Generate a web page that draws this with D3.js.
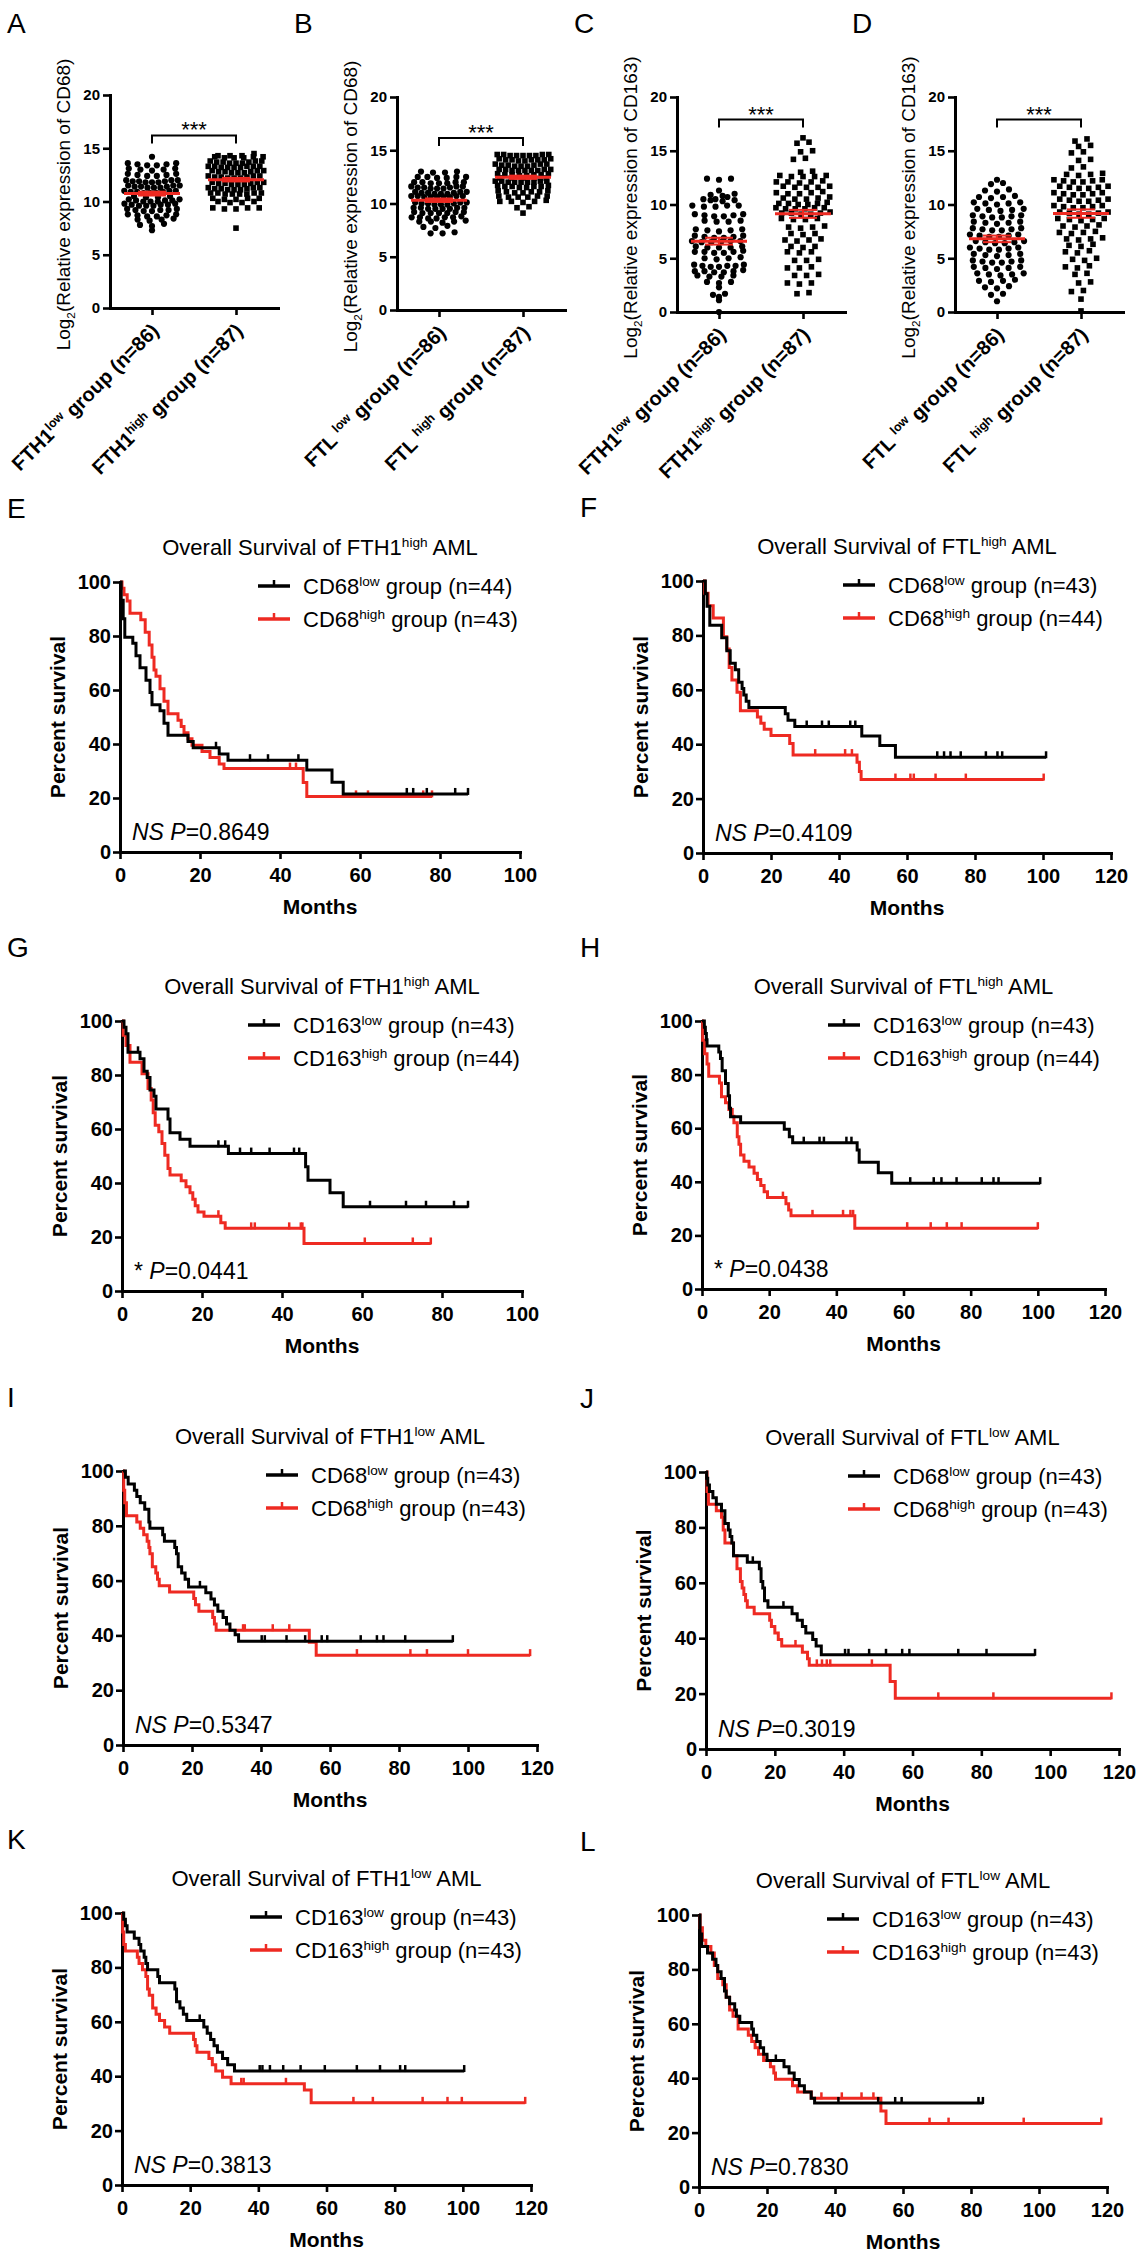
<!DOCTYPE html>
<html lang="en">
<head>
<meta charset="utf-8">
<title>Ferritin / macrophage marker expression and survival</title>
<script src="https://d3js.org/d3.v7.min.js"></script>
<style>
  body { margin: 0; background: #fff; }
  svg { display: block; font-family: "Liberation Sans", Arial, Helvetica, sans-serif; }
  text { white-space: pre; }
</style>
</head>
<body>
<svg id="fig" width="1142" height="2261"></svg>
<script>
var fth1LowCD68 = [14.2, 13.6,13.5,13.4,13.5,13.6,13.4, 13.0,13.1,12.9,13.0,13.1,
  12.5,12.4,12.6,12.5,12.4,12.6, 11.9,12.0,11.8,11.9,12.0,11.8,11.9,12.0,11.8,
  11.4,11.5,11.3,11.4,11.5,11.3,11.4,11.5,11.3, 10.9,11.0,10.8,10.9,11.0,10.8,10.9,11.0,10.8,
  10.5,10.4,10.5,10.4, 10.1,10.2,10.0,10.1,10.2,10.0,10.1,10.0, 9.7,9.6,9.8,9.7,9.6,9.8,9.7,9.6,
  9.2,9.3,9.1,9.2,9.3,9.1,9.2, 8.7,8.8,8.6,8.7,8.8,8.6, 8.3,8.2,8.3,8.4, 7.8,7.7,7.9, 7.3];
var fth1HighCD68 = [14.5, 14.2,14.3,14.1,14.2,14.3,14.1,14.2,14.3,14.1,
  13.7,13.8,13.6,13.7,13.8,13.6,13.7,13.8,13.6, 13.3,13.2,13.3,13.2,13.3,13.2,13.3,13.2,13.3,
  12.8,12.7,12.9,12.8,12.7,12.9,12.8,12.7,12.9, 12.3,12.2,12.4,12.3,12.2,12.4,12.3,12.2,12.4,
  11.7,11.8,11.6,11.7,11.8,11.6,11.7,11.8,11.6, 11.2,11.1,11.3,11.2,11.1,11.3,11.2,11.1,11.3,
  10.8,10.7,10.8,10.7,10.8,10.7,10.8,10.7, 10.3,10.2,10.3,10.2,10.3, 10.0,9.9,10.0,9.9,
  9.4,9.3,9.4,9.3,9.4, 7.5];
var ftlLowCD68 = [13.0,12.9,13.0,12.9, 12.5,12.4,12.5,12.4,12.5,12.5, 12.0,11.9,12.0,11.9,12.0,11.9,12.0,
  11.5,11.6,11.4,11.5,11.6,11.4,11.5,11.6,11.4, 11.0,11.1,10.9,11.0,11.1,10.9,11.0,11.1,10.9,
  10.6,10.7,10.6,10.7,10.6,10.7,10.6,10.7,10.6, 10.0,10.1,9.9,10.0,10.1,9.9,10.0,10.1,9.9,
  9.5,9.6,9.5,9.6,9.5,9.6,9.5,9.6, 9.1,9.2,9.1,9.2,9.1,9.2,9.1, 8.7,8.6,8.7,8.8,8.7,8.6,8.7,
  8.3,8.2,8.3,8.4,8.3, 7.8,7.7,7.9, 7.2,7.3,7.2];
var ftlHighCD68 = [14.5,14.6,14.5,14.6,14.5,14.6,14.5,14.6,14.5, 14.1,14.0,14.1,14.2,14.1,14.0,14.1,14.2,14.1,
  13.6,13.7,13.5,13.6,13.7,13.5,13.6,13.7,13.5, 13.1,13.2,13.1,13.2,13.1,13.2,13.1,13.2,13.1,
  12.7,12.6,12.7,12.8,12.7,12.6,12.7,12.8, 12.4,12.4,12.4,12.4,12.4,
  12.0,12.1,12.0,12.1,12.0,12.1,12.0,12.1,12.0, 11.6,11.5,11.6,11.7,11.6,11.5,11.6,11.7,
  11.1,11.2,11.0,11.1,11.2,11.0,11.1, 10.6,10.7,10.6,10.7,10.6,10.7, 10.2,10.1,10.2,10.3,10.2,
  9.7,9.6, 9.1];
var fth1LowCD163 = [12.4,12.3,12.4, 11.3, 10.9,11.0,10.8,10.7, 10.4,10.5,10.3,10.4,10.5,
  9.9,9.8,9.9,9.8,9.9, 9.0,9.1,8.9,9.0,9.1,8.9, 8.5,8.4,8.5,8.4, 7.6,7.7,7.5,7.6,7.7,
  7.0,7.1,6.9,7.0,7.1,6.9, 6.6,6.5,6.6,6.5,6.6,6.5, 6.0,6.1,6.0,6.1,6.0, 5.6,5.5,5.6,5.7,5.6,5.5,
  5.0,5.1,4.9,5.0, 4.3,4.4,4.2,4.3,4.4,4.2,4.3, 3.8,3.7,3.8,3.9,3.7,3.8, 3.4,3.3,3.4,3.3,
  2.8,2.7,2.8, 2.3, 1.6,1.7,1.4, 1.1, 0.0];
var fth1HighCD163 = [16.2, 15.8,15.7, 14.9,15.0, 14.2,14.3, 13.0,13.1,
  12.6,12.7,12.6,12.7,12.6, 12.1,12.0,12.1,12.2,12.1, 11.6,11.7,11.6,11.7,11.6,
  11.1,11.0,11.1,11.2,11.0, 10.6,10.5,10.6,10.7,10.5, 10.1,10.0,10.1,10.2,10.1,10.0,
  9.6,9.7,9.6,9.7,9.6,9.7, 9.2,9.1,9.2,9.3,9.2,9.1, 8.7,8.6,8.7,8.6, 7.9,7.8,7.9,8.0,
  7.3,7.2,7.3, 6.7,6.6,6.7,6.8, 6.1,6.0,6.1, 5.6,5.5,5.6, 4.8,4.9,4.8, 4.1,4.2,4.1,
  3.4,3.5,3.4, 2.7,2.6,2.7, 1.8,1.7];
var ftlLowCD163 = [12.3, 11.9,12.0, 11.3,11.4,11.2, 10.7,10.8,10.6,10.7, 10.1,10.2,10.0,10.1,10.2,
  9.5,9.6,9.4,9.5,9.6, 8.9,9.0,8.8,8.9,9.0,8.8, 8.3,8.4,8.2,8.3,8.4, 7.7,7.8,7.6,7.7,7.8,7.6,
  7.1,7.2,7.0,7.1,7.2,7.0, 6.5,6.6,6.4,6.5,6.6,6.4, 5.9,6.0,5.8,5.9,6.0,5.8, 5.3,5.4,5.2,5.3,5.4,
  4.7,4.8,4.6,4.7,4.8,4.6, 4.1,4.2,4.0,4.1,4.2, 3.5,3.6,3.4,3.5,3.6, 2.9,3.0,2.8,2.9,
  2.3,2.4,2.2, 1.7,1.6, 1.0];
var ftlHighCD163 = [16.1,15.9, 15.4,15.5, 14.8,14.9, 14.2,14.1, 13.4,13.5, 12.8,12.9,12.7,12.8,
  12.2,12.3,12.1,12.2,12.3,12.1, 11.6,11.7,11.5,11.6,11.7,11.5, 11.0,11.1,10.9,11.0,11.1,10.9,
  10.4,10.5,10.3,10.4,10.5,10.3, 9.8,9.9,9.7,9.8,9.9,9.7, 9.2,9.3,9.1,9.2,9.3,9.1,
  8.6,8.7,8.5,8.6,8.7, 8.0,8.1,7.9,8.0, 7.4,7.5,7.3,7.4, 6.8,6.9,6.7,6.8, 6.2,6.3,6.1,
  5.6,5.7,5.5, 4.9,5.0,4.8, 4.2,4.3,4.1, 3.5,3.6, 2.8,2.7, 2.0,1.9, 1.2, 0.1];

var scatterTicks = [0, 5, 10, 15, 20];
var groupN = [86, 87];
var stars = "***";

// ---------- Kaplan-Meier data: [month, percent survival after the drop] ----------
// E: FTH1 high, CD68 split
var eLowSteps = [[0.3,93.2],[0.8,86.4],[1.2,79.5],[3.2,77.3],[4.0,72.7],[5.0,68.2],[6.5,63.6],[7.5,59.1],[8.0,54.5],
  [10.0,52.3],[11.0,47.7],[12.0,43.2],[17.0,40.9],[18.3,38.6],[24.8,36.3],[27.0,34.0],[46.7,30.4],[53.0,25.8],[55.8,21.5]];
var eLowCensor = [24.0,32.5,37.0,44.6,71.7,73.3,76.7,83.8,87.0];
var eHighSteps = [[0.5,97.7],[1.0,95.3],[1.8,93.0],[2.5,88.4],[5.2,86.0],[6.3,81.4],[7.3,76.7],[8.0,72.1],[8.5,67.4],
  [9.0,65.1],[10.0,60.5],[11.0,55.8],[12.0,51.2],[14.5,48.8],[15.3,46.5],[16.0,44.2],[17.0,41.9],[18.0,39.5],
  [20.5,37.2],[22.5,35.0],[24.8,32.6],[26.0,30.9],[45.8,25.7],[46.7,20.6]];
var eHighCensor = [42.5,44.0,59.0,62.0,75.8,78.0];
// F: FTL high, CD68 split
var fLowSteps = [[0.7,95.3],[1.2,90.7],[2.0,83.7],[5.5,79.1],[7.0,74.4],[8.0,69.8],[9.5,67.4],[10.5,62.8],[11.5,60.5],
  [12.0,58.1],[12.7,55.8],[13.5,53.5],[24.2,51.2],[25.0,48.8],[27.0,46.5],[46.7,43.0],[52.0,39.5],[56.6,35.2]];
var fLowCensor = [30.5,35.0,37.0,43.3,44.8,68.9,70.9,72.8,75.8,83.2,86.6,88.0,100.9];
var fHighSteps = [[0.5,95.5],[1.5,90.9],[3.0,86.4],[6.0,79.5],[7.0,75.0],[7.7,68.2],[8.5,63.6],[10.0,59.1],[11.0,52.3],
  [16.0,50.0],[17.0,47.7],[18.0,45.5],[20.0,43.2],[25.5,40.3],[26.5,36.0],[45.3,33.4],[46.0,30.0],[46.5,27.0]];
var fHighCensor = [33.0,41.8,43.8,56.6,61.0,62.0,68.4,77.3,100.2];
// G: FTH1 high, CD163 split
var gLowSteps = [[0.5,97.7],[1.0,95.3],[1.5,88.4],[4.5,86.0],[5.5,81.4],[6.3,79.1],[7.0,74.4],[8.0,72.1],[8.5,67.4],
  [11.5,63.7],[12.0,58.6],[14.5,56.2],[17.0,53.6],[26.6,50.9],[45.9,46.0],[46.5,41.0],[52.0,36.4],[55.3,31.2]];
var gLowCensor = [4.0,24.1,25.8,29.5,32.3,36.9,43.0,44.3,62.0,71.0,76.0,83.0,86.5];
var gHighSteps = [[0.3,94.7],[1.0,90.9],[2.0,84.7],[5.0,80.5],[6.5,75.0],[7.3,70.7],[7.8,66.0],[8.3,61.4],[9.2,59.0],
  [10.0,54.6],[10.7,50.3],[11.5,45.4],[12.0,43.0],[14.8,40.8],[16.0,38.6],[17.0,36.4],[17.7,34.0],[18.3,31.6],
  [19.0,29.3],[20.5,27.7],[24.7,25.3],[25.8,23.2],[45.5,17.6]];
var gHighCensor = [24.1,32.3,33.2,41.8,44.7,45.1,60.7,72.7,77.2];
// H: FTL high, CD163 split
var hLowSteps = [[0.7,97.7],[1.0,95.3],[1.3,93.0],[1.5,90.7],[5.0,88.4],[5.5,86.0],[6.0,81.4],[7.0,76.7],[7.8,72.1],
  [8.2,67.4],[8.5,64.3],[11.5,62.0],[24.5,59.6],[26.0,56.8],[27.0,54.6],[46.2,51.9],[46.8,47.3],[52.5,43.4],[56.5,39.5]];
var hLowCensor = [30.3,35.0,36.3,43.0,44.5,62.0,69.0,71.3,75.8,83.3,86.8,88.3,100.7];
var hHighSteps = [[0.2,92.8],[0.8,87.8],[1.5,84.0],[2.0,79.4],[5.2,76.9],[5.8,71.7],[7.0,69.5],[8.0,67.0],[9.0,64.5],
  [9.5,62.0],[10.5,56.8],[11.0,54.0],[11.5,50.0],[12.5,47.7],[14.0,45.5],[15.5,43.2],[16.5,40.9],[17.5,38.6],
  [18.5,36.3],[19.5,34.1],[25.0,31.8],[25.8,29.5],[26.5,27.3],[45.5,22.7]];
var hHighCensor = [24.1,32.9,42.0,44.2,45.0,61.1,68.1,72.9,77.3,100.0];
// I: FTH1 low, CD68 split
var iLowSteps = [[0.7,97.7],[1.5,95.3],[3.3,93.0],[4.0,90.7],[5.0,88.4],[6.3,86.0],[7.5,81.4],[7.8,79.1],[11.5,76.7],
  [12.0,74.4],[15.0,72.1],[15.5,69.8],[16.0,65.1],[17.0,62.8],[18.0,60.5],[19.0,57.7],[24.0,55.6],[25.5,53.3],
  [26.5,51.1],[27.5,48.8],[29.0,46.5],[30.0,44.2],[31.0,41.9],[32.5,40.2],[33.5,37.9]];
var iLowCensor = [22.3,40.2,41.1,47.4,52.8,57.6,59.2,68.9,73.6,75.5,81.8,95.6];
var iHighSteps = [[0.2,93.0],[0.5,88.4],[1.0,83.7],[4.0,81.4],[5.0,79.1],[6.0,76.7],[7.0,74.4],[7.5,72.1],[7.8,69.8],
  [8.5,65.1],[9.5,62.8],[10.0,60.5],[10.5,58.1],[13.5,55.8],[20.5,53.5],[21.0,51.2],[22.0,48.8],[26.0,46.5],
  [26.5,44.2],[27.0,41.9],[54.0,37.5],[56.0,32.8]];
var iHighCensor = [34.8,35.3,43.4,48.2,67.8,83.3,88.1,100.0,118.0];
// J: FTL low, CD68 split
var jLowSteps = [[0.2,97.7],[0.5,95.3],[1.0,93.0],[2.0,90.7],[3.0,88.4],[4.5,86.0],[5.5,81.4],[6.5,79.1],[7.0,76.7],
  [7.5,74.4],[8.0,69.8],[12.0,67.4],[15.5,65.1],[16.0,60.5],[16.5,58.1],[17.0,53.5],[18.0,51.2],[25.0,48.8],
  [26.5,46.5],[28.0,44.2],[29.0,41.9],[31.0,39.5],[32.0,37.2],[33.5,34.0]];
var jLowCensor = [13.6,22.5,40.4,41.4,47.4,52.3,57.0,59.1,73.3,81.5,95.6];
var jHighSteps = [[0.3,93.0],[0.7,88.4],[3.0,86.0],[4.5,83.7],[5.0,79.1],[5.5,74.4],[8.0,69.8],[9.0,65.1],[10.0,60.5],
  [10.5,58.1],[11.0,55.8],[11.5,53.5],[12.0,51.2],[14.0,48.8],[18.5,46.5],[19.0,44.2],[20.0,41.9],[21.0,39.5],
  [22.0,37.2],[28.0,34.9],[29.5,32.6],[30.0,30.2],[53.5,24.4],[55.0,18.3]];
var jHighCensor = [26.0,32.2,33.7,35.1,36.1,48.2,67.5,83.5,117.8];
// K: FTH1 low, CD163 split
var kLowSteps = [[0.5,97.7],[1.0,95.3],[1.5,93.0],[3.6,90.7],[5.0,88.4],[5.5,86.0],[6.5,83.7],[7.0,81.4],[7.5,79.1],
  [10.5,76.7],[11.0,74.4],[15.5,72.1],[16.0,67.4],[17.0,65.1],[18.0,62.8],[19.0,60.5],[24.0,58.1],[25.0,55.8],
  [26.0,53.5],[27.0,51.2],[28.0,48.8],[29.5,46.5],[31.0,44.2],[33.0,41.9]];
var kLowCensor = [22.8,40.4,41.2,43.4,47.3,52.4,59.5,68.9,75.7,81.6,83.1,100.4];
var kHighSteps = [[0.2,93.0],[0.5,88.4],[1.0,86.0],[4.5,83.7],[5.0,81.4],[6.0,79.1],[7.0,76.7],[7.5,72.1],[8.0,69.8],
  [9.0,65.1],[10.0,62.8],[11.0,60.5],[12.5,58.1],[14.0,55.8],[21.0,53.5],[21.5,51.2],[22.0,48.8],[25.5,46.5],
  [26.5,44.2],[27.5,41.9],[29.5,39.6],[32.0,37.2],[53.5,34.9],[55.5,30.2]];
var kHighCensor = [35.0,35.7,48.1,67.9,73.6,88.2,95.5,99.7,118.3];
// L: FTL low, CD163 split
var lLowSteps = [[0.3,93.0],[0.8,88.4],[2.5,86.0],[4.0,83.7],[5.0,81.4],[5.5,79.1],[6.5,76.7],[7.5,72.1],[8.0,69.8],
  [9.0,67.4],[10.5,65.1],[11.0,62.8],[12.0,60.5],[15.5,58.1],[16.0,55.8],[17.0,53.5],[18.0,51.2],[19.0,48.8],
  [20.0,46.5],[25.0,44.2],[26.5,41.9],[28.0,39.5],[29.5,37.2],[31.0,34.9],[33.0,32.6],[34.0,30.9]];
var lLowCensor = [22.6,41.0,52.7,57.7,59.6,82.2,83.5];
var lHighSteps = [[0.3,95.3],[1.0,90.7],[2.0,88.4],[3.5,86.0],[4.5,81.4],[5.5,76.7],[7.0,74.4],[8.0,69.8],[9.0,65.1],
  [10.0,62.8],[11.5,58.1],[14.5,55.8],[15.5,53.5],[16.5,51.2],[17.5,48.8],[19.0,46.5],[21.0,44.2],[22.0,41.9],
  [22.5,39.6],[27.5,37.2],[29.0,34.9],[33.0,32.6],[53.5,27.9],[55.0,23.3]];
var lHighCensor = [20.0,36.0,42.0,47.8,51.3,67.8,73.4,95.5,118.3];

var kmYTicks = [0, 20, 40, 60, 80, 100];
var pValues = ["0.8649", "0.4109", "0.0441", "0.0438", "0.5347", "0.3019", "0.3813", "0.7830"];
var pMarks = ["NS", "NS", "*", "*", "NS", "NS", "NS", "NS"];
var nLow = [44, 43, 43, 43, 43, 43, 43, 43];
var nHigh = [43, 44, 44, 44, 43, 43, 43, 43];

// ---------- drawing ----------
var svg = d3.select("#fig");
var RED = "#ee2a22";

// text with superscript / subscript / italic pieces
function rich(sel, parts, fs) {
  var shift = 0;
  parts.forEach(function(p) {
    var t = typeof p === "string" ? p : p[0];
    var m = typeof p === "string" ? "" : p[1];
    var ts = sel.append("tspan").text(t);
    var target = 0;
    if (m === "sup") { ts.attr("font-size", fs * 0.62); target = -fs * 0.38; }
    if (m === "sub") { ts.attr("font-size", fs * 0.62); target = fs * 0.26; }
    if (m === "it") ts.attr("font-style", "italic");
    if (target !== shift) { ts.attr("dy", target - shift); shift = target; }
  });
  return sel;
}

function styleAxis(a, fs) {
  a.attr("font-family", null);
  a.select(".domain").attr("stroke-width", 3).attr("stroke-linecap", "square");
  a.selectAll(".tick line").attr("stroke-width", 2.6);
  a.selectAll(".tick text").attr("font-size", fs).attr("font-weight", "bold").attr("fill", "#000");
}

// GraphPad-like rows: points within ~3px share a row, lowest in the middle,
// neighbouring rows staggered so the marks interleave
function swarm(values, y, cx) {
  var pts = values.map(function(v) { return { v: v, py: y(v) }; })
    .sort(function(a, b) { return a.py - b.py; });
  var rows = [];
  pts.forEach(function(pt) {
    var row = rows[rows.length - 1];
    if (row && pt.py - row[0].py <= 3) row.push(pt); else rows.push([pt]);
  });
  var prevParity = -1, flip = 1;
  rows.forEach(function(row) {
    row.sort(function(a, b) { return a.v - b.v; });
    var n = row.length, dx = Math.min(12, 58 / n);
    var shift = 0;
    if (n > 1 && n % 2 === prevParity) { shift = flip * dx * 0.3; flip = -flip; }
    prevParity = n % 2;
    row.forEach(function(pt, i) {
      var off = n % 2 ? Math.ceil(i / 2) * (i % 2 ? -1 : 1)
                      : (Math.floor(i / 2) + 0.5) * (i % 2 ? 1 : -1);
      pt.px = cx + off * dx + shift;
    });
  });
  return pts;
}

var scatterPanels = [
  { letter: "A", ax: 110, top: 95, bottom: 308, marker: "CD68", gene: "FTH1", gap: "", data: [fth1LowCD68, fth1HighCD68], bracket: 16.2 },
  { letter: "B", ax: 397, top: 97, bottom: 310, marker: "CD68", gene: "FTL", gap: " ", data: [ftlLowCD68, ftlHighCD68], bracket: 16.15 },
  { letter: "C", ax: 677, top: 97, bottom: 312, marker: "CD163", gene: "FTH1", gap: "", data: [fth1LowCD163, fth1HighCD163], bracket: 17.9 },
  { letter: "D", ax: 955, top: 97, bottom: 312, marker: "CD163", gene: "FTL", gap: " ", data: [ftlLowCD163, ftlHighCD163], bracket: 17.9 }
];

function drawScatter(p) {
  var g = svg.append("g");
  var y = d3.scaleLinear().domain([0, 20]).range([p.bottom, p.top]);
  var x = d3.scaleLinear().domain([0, 4]).range([p.ax, p.ax + 168]);

  g.append("text").attr("x", p.ax - 103).attr("y", 33).attr("font-size", 28).text(p.letter);

  var ya = g.append("g").attr("transform", "translate(" + p.ax + ",0)")
    .call(d3.axisLeft(y).tickValues(scatterTicks).tickSize(7).tickPadding(3).tickSizeOuter(0));
  styleAxis(ya, 15);
  var xa = g.append("g").attr("transform", "translate(0," + p.bottom + ")")
    .call(d3.axisBottom(x).tickValues([1, 3]).tickSize(7).tickSizeOuter(0).tickFormat(""));
  styleAxis(xa, 15);

  // y label
  rich(g.append("text")
    .attr("transform", "translate(" + (p.ax - 40) + "," + ((p.top + p.bottom) / 2 + 3) + ") rotate(-90)")
    .attr("text-anchor", "middle").attr("font-size", 19),
    ["Log", ["2", "sub"], "(Relative expression of " + p.marker + ")"], 19);

  // category labels
  ["low", "high"].forEach(function(level, i) {
    var cx = x(1 + 2 * i), ly = p.bottom + 24;
    rich(g.append("text")
      .attr("transform", "translate(" + (cx + 8) + "," + ly + ") rotate(-45)")
      .attr("text-anchor", "end").attr("font-size", 20).attr("font-weight", "bold"),
      [p.gene + p.gap, [level, "sup"], " group (n=" + groupN[i] + ")"], 20);
  });

  // points
  p.data.forEach(function(vals, i) {
    var cx = x(1 + 2 * i);
    var pts = swarm(vals, y, cx);
    if (i === 0) {
      g.append("g").selectAll("circle").data(pts).join("circle")
        .attr("cx", function(d) { return d.px; }).attr("cy", function(d) { return d.py; })
        .attr("r", 3.1).attr("fill", "#000");
    } else {
      g.append("g").selectAll("rect").data(pts).join("rect")
        .attr("x", function(d) { return d.px - 2.8; }).attr("y", function(d) { return d.py - 2.8; })
        .attr("width", 5.6).attr("height", 5.6).attr("fill", "#000");
    }
    // mean +/- SEM
    var m = d3.mean(vals), sem = d3.deviation(vals) / Math.sqrt(vals.length);
    var eg = g.append("g").attr("stroke", RED).attr("stroke-width", 3).attr("fill", "none");
    eg.append("line").attr("x1", cx - 28).attr("x2", cx + 28).attr("y1", y(m)).attr("y2", y(m));
    eg.append("line").attr("x1", cx).attr("x2", cx).attr("y1", y(m - sem)).attr("y2", y(m + sem)).attr("stroke-width", 2);
    [m - sem, m + sem].forEach(function(v) {
      eg.append("line").attr("x1", cx - 14).attr("x2", cx + 14).attr("y1", y(v)).attr("y2", y(v)).attr("stroke-width", 2);
    });
  });

  // significance bracket
  var yb = y(p.bracket), c1 = x(1), c2 = x(3);
  g.append("path").attr("d", "M" + c1 + "," + (yb + 8) + "V" + yb + "H" + c2 + "V" + (yb + 8))
    .attr("fill", "none").attr("stroke", "#000").attr("stroke-width", 2);
  g.append("text").attr("x", (c1 + c2) / 2).attr("y", yb + 2).attr("text-anchor", "middle")
    .attr("font-size", 22).text(stars);
}

scatterPanels.forEach(drawScatter);

var kmPanels = [
  { letter: "E", lx: 7,   x0: 120, x1: 520,  top: 582,  bottom: 852,  xMax: 100, gene: "FTH1", level: "high", marker: "CD68",  low: eLowSteps, lowC: eLowCensor, high: eHighSteps, highC: eHighCensor, leg: 138 },
  { letter: "F", lx: 580, x0: 703, x1: 1111, top: 581,  bottom: 853,  xMax: 120, gene: "FTL",  level: "high", marker: "CD68",  low: fLowSteps, lowC: fLowCensor, high: fHighSteps, highC: fHighCensor, leg: 140 },
  { letter: "G", lx: 7,   x0: 122, x1: 522,  top: 1021, bottom: 1291, xMax: 100, gene: "FTH1", level: "high", marker: "CD163", low: gLowSteps, lowC: gLowCensor, high: gHighSteps, highC: gHighCensor, leg: 126 },
  { letter: "H", lx: 580, x0: 702, x1: 1105, top: 1021, bottom: 1289, xMax: 120, gene: "FTL",  level: "high", marker: "CD163", low: hLowSteps, lowC: hLowCensor, high: hHighSteps, highC: hHighCensor, leg: 126 },
  { letter: "I", lx: 7,   x0: 123, x1: 537,  top: 1471, bottom: 1745, xMax: 120, gene: "FTH1", level: "low",  marker: "CD68",  low: iLowSteps, lowC: iLowCensor, high: iHighSteps, highC: iHighCensor, leg: 143 },
  { letter: "J", lx: 580, x0: 706, x1: 1119, top: 1472, bottom: 1749, xMax: 120, gene: "FTL",  level: "low",  marker: "CD68",  low: jLowSteps, lowC: jLowCensor, high: jHighSteps, highC: jHighCensor, leg: 142 },
  { letter: "K", lx: 7,   x0: 122, x1: 531,  top: 1913, bottom: 2185, xMax: 120, gene: "FTH1", level: "low",  marker: "CD163", low: kLowSteps, lowC: kLowCensor, high: kHighSteps, highC: kHighCensor, leg: 128 },
  { letter: "L", lx: 580, x0: 699, x1: 1107, top: 1915, bottom: 2187, xMax: 120, gene: "FTL",  level: "low",  marker: "CD163", low: lLowSteps, lowC: lLowCensor, high: lHighSteps, highC: lHighCensor, leg: 128 }
];

function survAt(steps, t) {
  var s = 100;
  for (var i = 0; i < steps.length; i++) { if (steps[i][0] <= t) s = steps[i][1]; else break; }
  return s;
}

function drawKM(p, idx) {
  var g = svg.append("g");
  var x = d3.scaleLinear().domain([0, p.xMax]).range([p.x0, p.x1]);
  var y = d3.scaleLinear().domain([0, 100]).range([p.bottom, p.top]);
  var cxm = (p.x0 + p.x1) / 2;

  g.append("text").attr("x", p.lx).attr("y", p.top - 64).attr("font-size", 28).text(p.letter);
  rich(g.append("text").attr("x", cxm).attr("y", p.top - 27).attr("text-anchor", "middle").attr("font-size", 22),
    ["Overall Survival of " + p.gene, [p.level, "sup"], " AML"], 22);

  var ya = g.append("g").attr("transform", "translate(" + p.x0 + ",0)")
    .call(d3.axisLeft(y).tickValues(kmYTicks).tickSize(7).tickPadding(2).tickSizeOuter(0));
  styleAxis(ya, 20);
  var xa = g.append("g").attr("transform", "translate(0," + p.bottom + ")")
    .call(d3.axisBottom(x).tickValues(d3.range(0, p.xMax + 1, 20)).tickSize(7).tickPadding(9).tickSizeOuter(0));
  styleAxis(xa, 20);

  g.append("text").attr("x", cxm).attr("y", p.bottom + 62).attr("text-anchor", "middle")
    .attr("font-size", 21).attr("font-weight", "bold").text("Months");
  g.append("text")
    .attr("transform", "translate(" + (p.x0 - 55) + "," + ((p.top + p.bottom) / 2) + ") rotate(-90)")
    .attr("text-anchor", "middle").attr("font-size", 21).attr("font-weight", "bold").text("Percent survival");

  var line = d3.line().x(function(d) { return x(d[0]); }).y(function(d) { return y(d[1]); }).curve(d3.curveStepAfter);
  [{ s: p.high, c: p.highC, col: RED }, { s: p.low, c: p.lowC, col: "#000" }].forEach(function(cv) {
    var end = d3.max(cv.c);
    var pts = [[0, 100]].concat(cv.s, [[end, cv.s[cv.s.length - 1][1]]]);
    g.append("path").datum(pts).attr("d", line).attr("fill", "none")
      .attr("stroke", cv.col).attr("stroke-width", 3).attr("stroke-linejoin", "miter");
    g.append("g").selectAll("line").data(cv.c).join("line")
      .attr("x1", function(t) { return x(t); }).attr("x2", function(t) { return x(t); })
      .attr("y1", function(t) { return y(survAt(cv.s, t)) + 1; })
      .attr("y2", function(t) { return y(survAt(cv.s, t)) - 6; })
      .attr("stroke", cv.col).attr("stroke-width", 2.5);
  });

  // legend
  var lx = p.x0 + p.leg;
  [["low", nLow[idx], "#000", p.top + 4], ["high", nHigh[idx], RED, p.top + 37]].forEach(function(r) {
    g.append("line").attr("x1", lx).attr("x2", lx + 32).attr("y1", r[3]).attr("y2", r[3])
      .attr("stroke", r[2]).attr("stroke-width", 3.5);
    g.append("line").attr("x1", lx + 16).attr("x2", lx + 16).attr("y1", r[3]).attr("y2", r[3] - 6)
      .attr("stroke", r[2]).attr("stroke-width", 2.5);
    rich(g.append("text").attr("x", lx + 45).attr("y", r[3] + 8).attr("font-size", 22),
      [p.marker, [r[0], "sup"], " group (n=" + r[1] + ")"], 22);
  });

  // p value
  var pp = pMarks[idx] === "NS" ? [["NS ", "it"], ["P", "it"], "=" + pValues[idx]] : ["* ", ["P", "it"], "=" + pValues[idx]];
  rich(g.append("text").attr("x", p.x0 + 12).attr("y", p.bottom - 12).attr("font-size", 23), pp, 23);
}

kmPanels.forEach(drawKM);
</script>
</body>
</html>
